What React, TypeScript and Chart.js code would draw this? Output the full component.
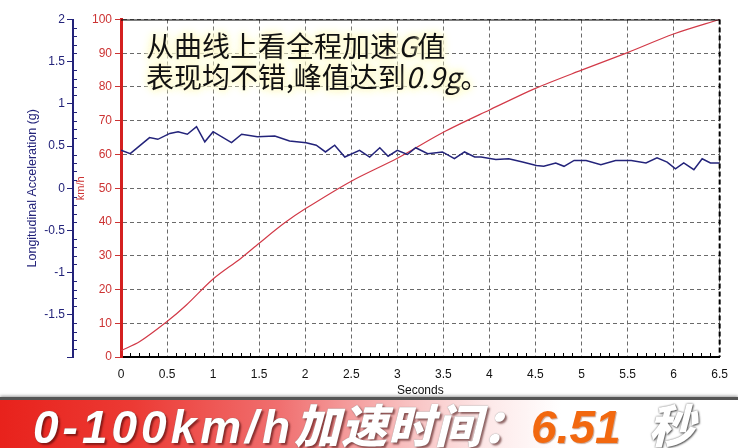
import React, { useEffect, useRef } from "react";
import { Chart, registerables } from "chart.js";

Chart.register(...registerables);

// ---- Data ----
const accelTime = [
  0, 0.1, 0.31, 0.4, 0.53, 0.62, 0.72, 0.82, 0.91, 1.0, 1.2, 1.31, 1.48, 1.67, 1.83,
  2.01, 2.12, 2.22, 2.32, 2.43, 2.59, 2.7, 2.81, 2.9, 3.0, 3.11, 3.2, 3.33, 3.49, 3.62,
  3.73, 3.84, 3.91, 4.07, 4.21, 4.36, 4.51, 4.59, 4.72, 4.81, 4.92, 5.05, 5.21, 5.37,
  5.54, 5.7, 5.82, 5.93, 6.02, 6.11, 6.22, 6.31, 6.4, 6.5,
];
const accelG = [
  0.45, 0.41, 0.6, 0.58, 0.65, 0.67, 0.64, 0.73, 0.55, 0.67, 0.54, 0.64, 0.61, 0.62, 0.56,
  0.54, 0.51, 0.43, 0.51, 0.37, 0.45, 0.37, 0.48, 0.38, 0.45, 0.4, 0.48, 0.41, 0.43, 0.35,
  0.43, 0.37, 0.37, 0.34, 0.35, 0.31, 0.27, 0.26, 0.3, 0.26, 0.33, 0.33, 0.28, 0.33,
  0.33, 0.3, 0.36, 0.31, 0.23, 0.3, 0.22, 0.35, 0.3, 0.3,
];
const speedTime = [
  0, 0.2, 0.5, 0.71, 1.0, 1.3, 1.5, 1.77, 2.0, 2.5, 3.0, 3.5, 4.0, 4.5, 5.0, 5.5, 6.0, 6.5,
];
const speedKmh = [
  1.9, 4.5, 10.5, 15.4, 23.1, 29.2, 33.7, 39.6, 43.9, 52.1, 58.9, 66.6, 73.2, 79.6, 85.0,
  90.2, 95.7, 100,
];

const xTitle = "Seconds";
const accelTitle = "Longitudinal Acceleration (g)";
const speedTitle = "km/h";
const noteLine1 = ["从曲线上看全程加速", "G", "值"];
const noteLine2 = ["表现均不错,峰值达到", "0.9g", "。"];
const bannerMain = "0-100km/h";
const bannerCjk = "加速时间：";
const bannerValue = "6.51";
const bannerUnit = "秒";

const BLUE = "#23237a";
const RED = "#cc3333";
const GRID = "#6a6a6a";
const SANS = '"Liberation Sans", Arial, sans-serif';

const framePlugin = {
  id: "frame",
  afterDraw(chart: any) {
    const { ctx, chartArea, scales } = chart;
    const { left, right, top, bottom } = chartArea;
    ctx.save();
    ctx.strokeStyle = "#000";
    ctx.lineWidth = 1;
    ctx.beginPath();
    ctx.moveTo(left, top + 0.5);
    ctx.lineTo(right, top + 0.5);
    ctx.stroke();
    ctx.lineWidth = 2;
    ctx.setLineDash([5, 3]);
    ctx.beginPath();
    ctx.moveTo(right, top);
    ctx.lineTo(right, bottom);
    ctx.stroke();
    ctx.setLineDash([]);
    // minor ticks on x axis
    ctx.lineWidth = 1;
    ctx.strokeStyle = "#000";
    const xs = scales.x;
    ctx.beginPath();
    for (let i = 1; i < 65; i++) {
      if (i % 5 === 0) continue;
      const px = Math.round(xs.getPixelForValue(i / 10)) + 0.5;
      ctx.moveTo(px, bottom);
      ctx.lineTo(px, bottom - 4);
    }
    ctx.stroke();
    // minor ticks on acceleration axis
    const ya = scales.yA;
    ctx.strokeStyle = BLUE;
    ctx.beginPath();
    for (let i = -19; i < 20; i++) {
      if (i % 5 === 0) continue;
      const py = Math.round(ya.getPixelForValue(i / 10)) + 0.5;
      ctx.moveTo(ya.right, py);
      ctx.lineTo(ya.right + 4, py);
    }
    ctx.stroke();
    ctx.restore();
  },
};

export default function App() {
  const ref = useRef<HTMLCanvasElement | null>(null);

  useEffect(() => {
    if (!ref.current) return;
    const chart = new Chart(ref.current, {
      type: "line",
      data: {
        datasets: [
          {
            label: "Acceleration",
            data: accelTime.map((t, i) => ({ x: t, y: accelG[i] })),
            yAxisID: "yA",
            borderColor: BLUE,
            borderWidth: 1.5,
            pointRadius: 0,
            tension: 0,
          },
          {
            label: "Speed",
            data: speedTime.map((t, i) => ({ x: t, y: speedKmh[i] })),
            yAxisID: "y",
            borderColor: "#d23a48",
            borderWidth: 1.2,
            pointRadius: 0,
            tension: 0.3,
          },
        ],
      },
      options: {
        animation: false,
        responsive: false,
        devicePixelRatio: 1,
        layout: { padding: { left: 0, right: 17, top: 19.5, bottom: 46 } },
        plugins: { legend: { display: false }, tooltip: { enabled: false } },
        scales: {
          x: {
            type: "linear",
            min: 0,
            max: 6.5,
            ticks: {
              stepSize: 0.5,
              color: "#111",
              font: { family: SANS, size: 12 },
              padding: 10,
              maxRotation: 0,
              callback: (v: any) => String(v),
            },
            grid: {
              color: GRID,
              drawTicks: false,
            },
            border: { color: "#000", width: 2, dash: [4, 3] } as any,
            title: {
              display: true,
              text: xTitle,
              color: "#111",
              font: { family: SANS, size: 12 },
              padding: { top: 0, bottom: 4 },
            },
            afterFit: (s: any) => {
              s.height = 45;
            },
          },
          y: {
            type: "linear",
            position: "left",
            weight: 0,
            min: 0,
            max: 100,
            ticks: {
              stepSize: 10,
              color: RED,
              font: { family: SANS, size: 12 },
              padding: 3,
            },
            grid: {
              color: GRID,
              tickColor: RED,
              tickLength: 6,
              tickBorderDash: [],
            } as any,
            border: { color: "#d42020", width: 3, dash: [4, 3] } as any,
            title: {
              display: true,
              text: speedTitle,
              color: RED,
              font: { family: SANS, size: 11 },
              padding: { top: 1, bottom: 0 },
            },
            afterFit: (s: any) => {
              s.width = 48;
            },
          },
          yA: {
            type: "linear",
            position: "left",
            weight: 1,
            min: -2,
            max: 2,
            ticks: {
              stepSize: 0.5,
              color: BLUE,
              font: { family: SANS, size: 12 },
              padding: 2,
              callback: (v: any) => (Number(v) <= -2 ? "" : String(v)),
            },
            grid: {
              drawOnChartArea: false,
              color: BLUE,
              tickLength: 6,
            },
            border: { color: BLUE, width: 2 },
            title: {
              display: true,
              text: accelTitle,
              color: BLUE,
              font: { family: SANS, size: 12.5 },
              padding: { top: 25, bottom: 0 },
            },
            afterFit: (s: any) => {
              s.width = 73;
            },
          },
        },
      },
      plugins: [framePlugin],
    } as any);
    return () => chart.destroy();
  }, []);

  const glow =
    "0 0 4px #fffbd8, 0 0 6px #fffbd8, 0 0 8px #fff8c8, 0 0 10px #fff8c8, 0 0 12px #fff8c8";

  return (
    <div
      style={{
        position: "absolute",
        left: 0,
        top: 0,
        width: 738,
        height: 448,
        overflow: "hidden",
        background: "#fff",
      }}
    >
      <canvas ref={ref} width={738} height={448} style={{ width: 738, height: 448, display: "block" }} />
      <div
        style={{
          position: "absolute",
          left: 146,
          top: 30,
          fontFamily: '"Noto Sans CJK SC", sans-serif',
          fontSize: 28,
          lineHeight: "31px",
          color: "#111",
          textShadow: glow,
          whiteSpace: "nowrap",
        }}
      >
        <div>
          {noteLine1[0]}
          <i>{noteLine1[1]}</i>
          {noteLine1[2]}
        </div>
        <div>
          {noteLine2[0]}
          <i>{noteLine2[1]}</i>
          {noteLine2[2]}
        </div>
      </div>
      <div
        style={{
          position: "absolute",
          left: 0,
          top: 397,
          width: 738,
          height: 51,
          overflow: "hidden",
          borderTop: "3px solid #555",
          boxShadow: "0 -1px 3px rgba(0,0,0,0.4)",
          background:
            "linear-gradient(to right, #e8221c 0%, #ec3a34 18%, #f07070 38%, #f8c0c0 55%, #fde8e8 66%, #ffffff 76%, #ffffff 100%)",
        }}
      >
        <div
          style={{
            position: "absolute",
            left: 33,
            top: 4,
            fontFamily: '"Liberation Sans", "Noto Sans CJK SC", sans-serif',
            fontWeight: 900,
            fontStyle: "italic",
            fontSize: 46,
            lineHeight: "46px",
            whiteSpace: "nowrap",
            color: "#fff",
            textShadow: "2px 2px 2px rgba(60,0,0,0.55), 0 0 1px #777",
          }}
        >
          <span style={{ letterSpacing: 4 }}>{bannerMain}</span>
          <span style={{ letterSpacing: 1 }}>{bannerCjk}</span>
          <span style={{ color: "#f2680f", textShadow: "1px 1px 1px rgba(120,40,0,0.4)", marginLeft: 2 }}>
            {bannerValue}
          </span>
          <span style={{ color: "#fff", textShadow: "0 0 2px #666, 1px 1px 2px #555", marginLeft: 28 }}>
            {bannerUnit}
          </span>
        </div>
      </div>
    </div>
  );
}
